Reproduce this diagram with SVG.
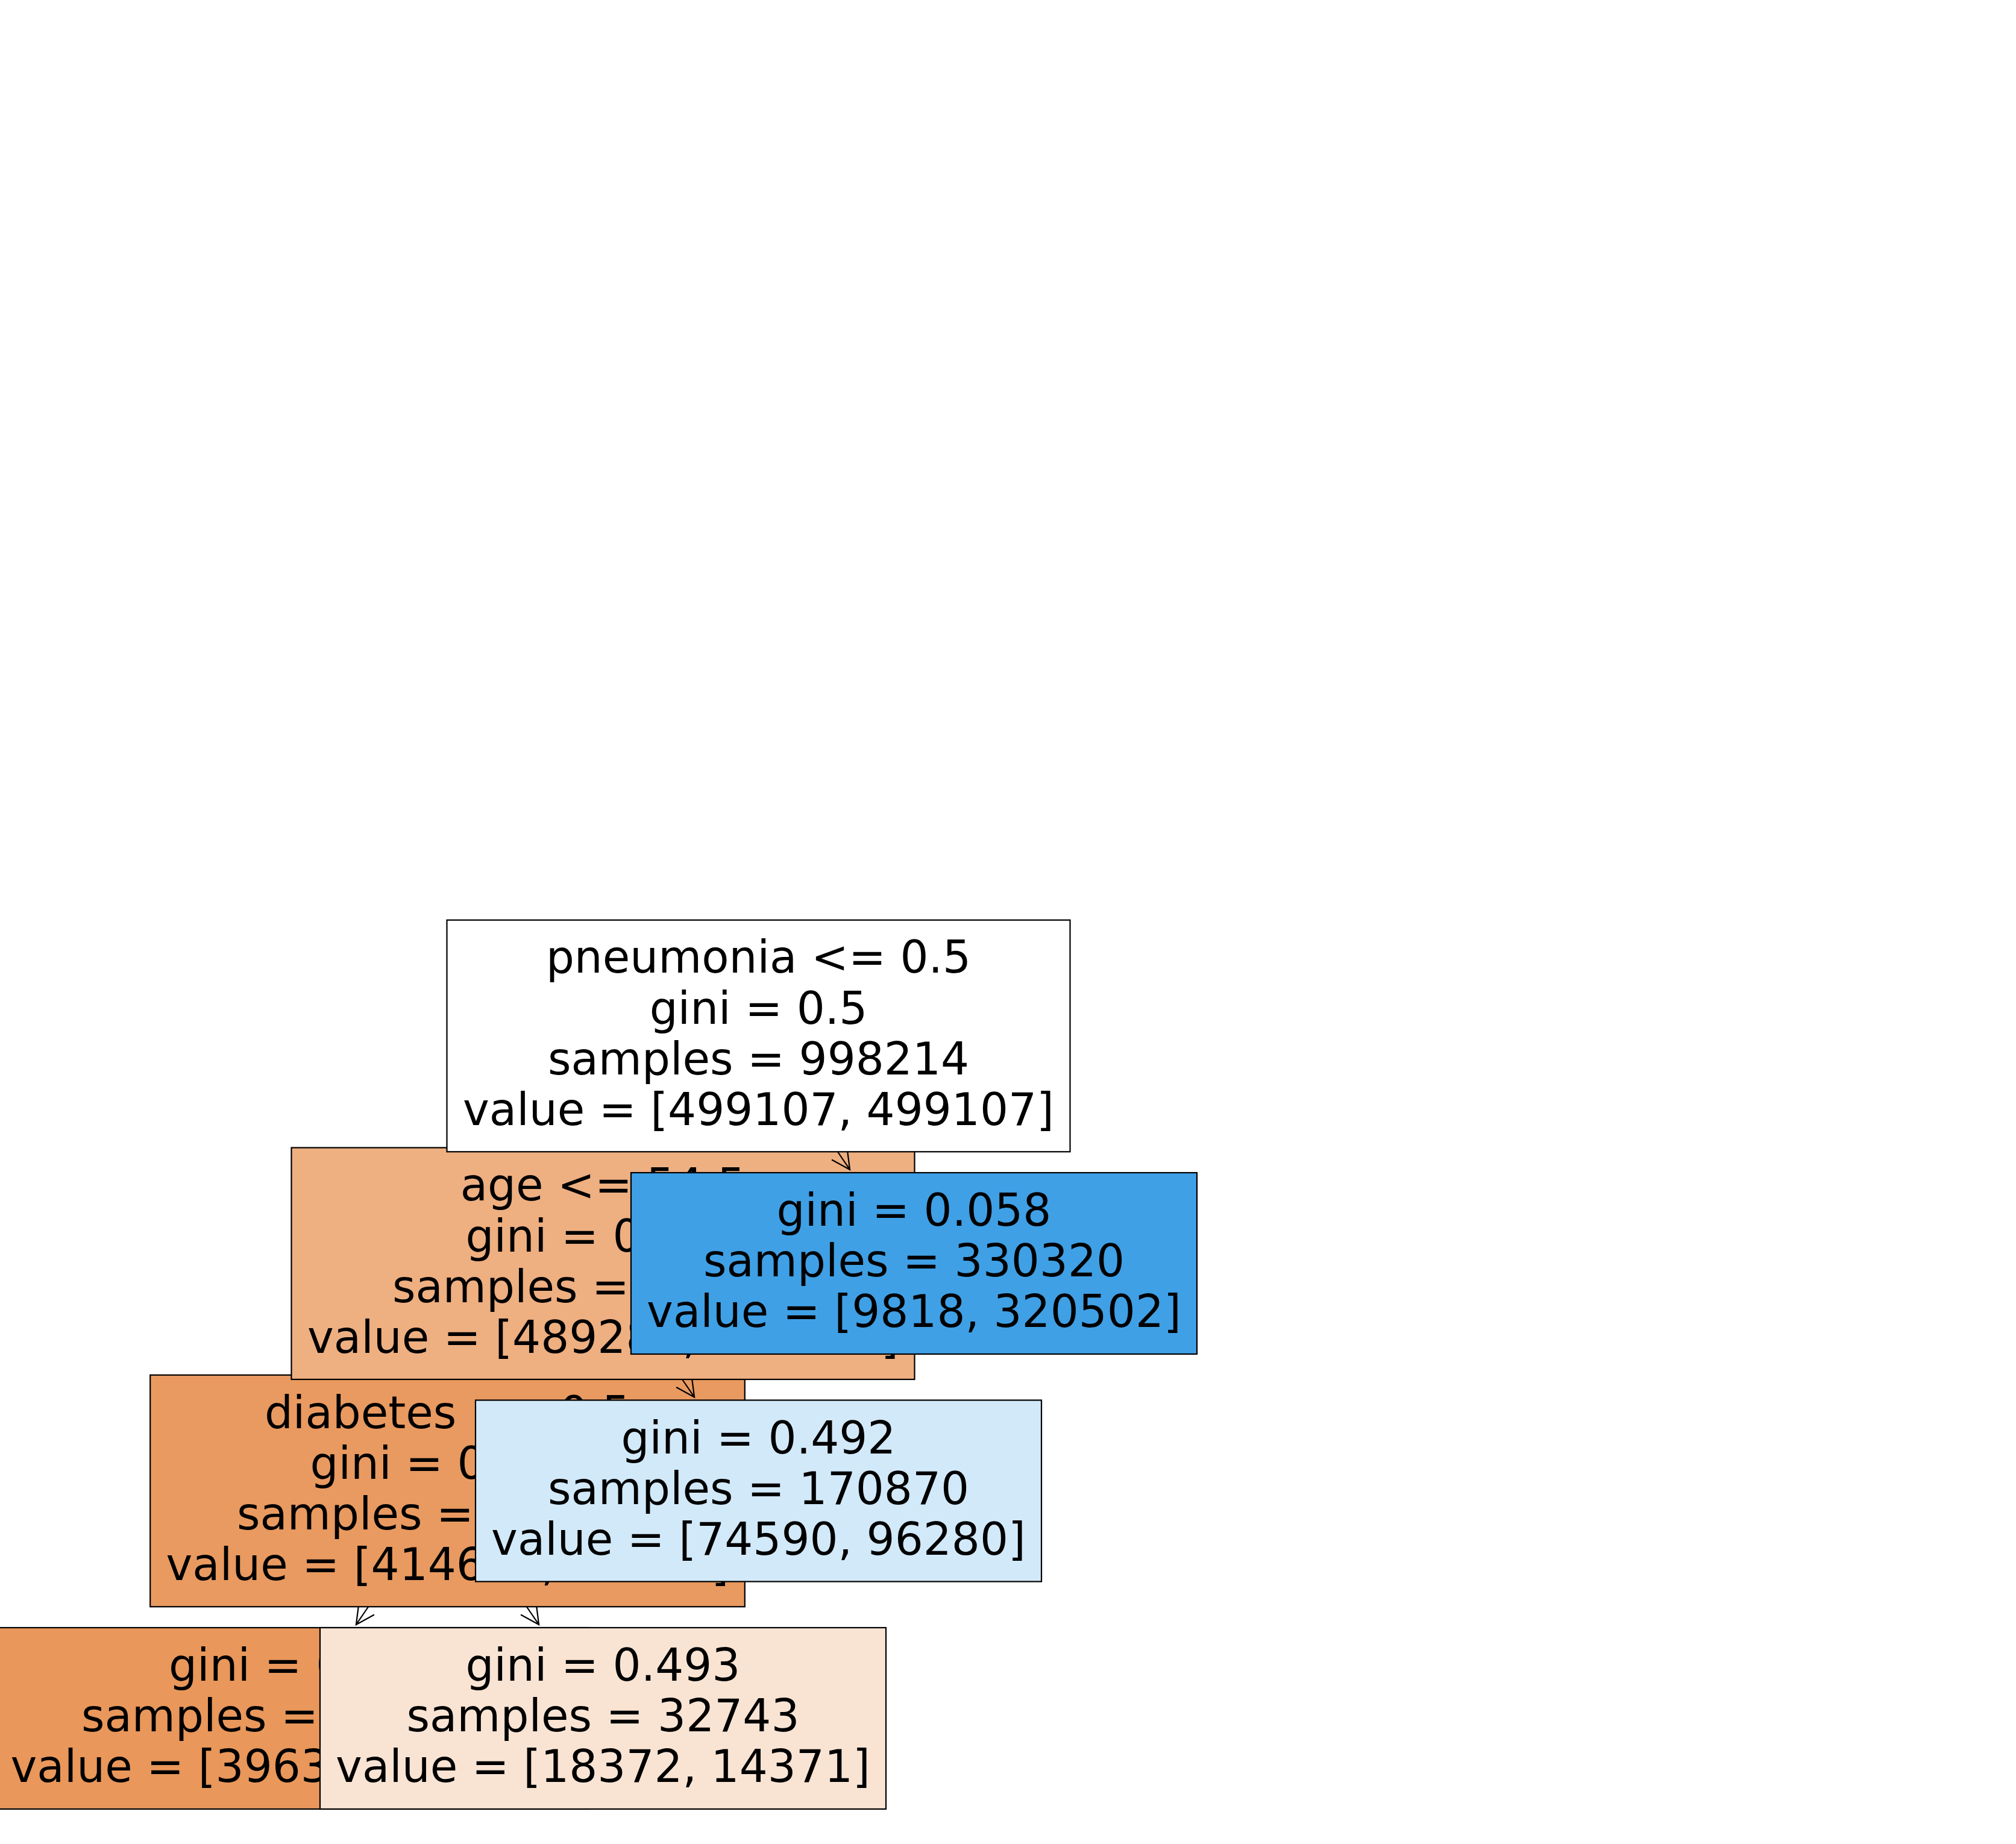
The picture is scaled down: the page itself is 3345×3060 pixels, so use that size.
<svg xmlns="http://www.w3.org/2000/svg" width="3345" height="3060" viewBox="0 0 3345 3060">
<style>
.box{stroke:#000;stroke-width:2.2}
text{font-family:"DejaVu Sans","Liberation Sans",sans-serif;font-size:74px;text-anchor:middle;fill:#000}
.arrow{fill:none;stroke:#000;stroke-width:2.2;stroke-linejoin:miter}
</style>
<rect x="0" y="0" width="3345" height="3060" fill="#fff"/>
<g id="node-leaf-left">
<rect class="box" x="-8.8" y="2701" width="986.6" height="301" fill="#e9975b"/>
<text x="484.5" y="2789.2">gini = 0.25</text>
<text x="484.5" y="2873.3">samples = 464281</text>
<text x="484.5" y="2957.4">value = [396327, 67954]</text>
</g>
<g id="node-leaf-peach">
<rect class="box" x="531" y="2701" width="939" height="301" fill="#f9e4d4"/>
<text x="1000.5" y="2789.2">gini = 0.493</text>
<text x="1000.5" y="2873.3">samples = 32743</text>
<text x="1000.5" y="2957.4">value = [18372, 14371]</text>
</g>
<g id="node-diabetes">
<rect class="box" x="249.2" y="2281.75" width="986.6" height="384.5" fill="#e99a60"/>
<text x="742.5" y="2369.65">diabetes &lt;= 0.5</text>
<text x="742.5" y="2453.75">gini = 0.276</text>
<text x="742.5" y="2537.85">samples = 497024</text>
<text x="742.5" y="2621.95">value = [414699, 82325]</text>
</g>
<g id="node-leaf-lightblue">
<rect class="box" x="789" y="2323.5" width="939" height="301" fill="#d2e9f9"/>
<text x="1258.5" y="2411.7">gini = 0.492</text>
<text x="1258.5" y="2495.8">samples = 170870</text>
<text x="1258.5" y="2579.9">value = [74590, 96280]</text>
</g>
<g id="node-age">
<rect class="box" x="483.5" y="1904.5" width="1034" height="384.5" fill="#eeaf81"/>
<text x="1000.5" y="1992.4">age &lt;= 54.5</text>
<text x="1000.5" y="2076.5">gini = 0.392</text>
<text x="1000.5" y="2160.6">samples = 667894</text>
<text x="1000.5" y="2244.7">value = [489289, 178605]</text>
</g>
<g id="node-leaf-blue">
<rect class="box" x="1047" y="1946" width="939" height="301" fill="#3fa0e6"/>
<text x="1516.5" y="2034.2">gini = 0.058</text>
<text x="1516.5" y="2118.3">samples = 330320</text>
<text x="1516.5" y="2202.4">value = [9818, 320502]</text>
</g>
<g id="node-root">
<rect class="box" x="741.5" y="1526.75" width="1034" height="384.5" fill="#ffffff"/>
<text x="1258.5" y="1614.4">pneumonia &lt;= 0.5</text>
<text x="1258.5" y="1698.5">gini = 0.5</text>
<text x="1258.5" y="1782.6">samples = 998214</text>
<text x="1258.5" y="1866.7">value = [499107, 499107]</text>
</g>
<g id="connectors">
<path class="arrow" d="M1389.7,1911 L1410.1,1940.9 M1406.2,1911 L1410.1,1940.9 L1380.1,1924.45"/>
<path class="arrow" d="M1132,2289 L1152.1,2318.4 M1148.3,2289 L1152.1,2318.4 L1122.1,2301.95"/>
<path class="arrow" d="M611.2,2666.25 L590.9,2695.9 M594.7,2666.25 L590.9,2695.9 L620.9,2679.45"/>
<path class="arrow" d="M873.8,2666.25 L894.1,2695.9 M890.3,2666.25 L894.1,2695.9 L864.1,2679.45"/>
</g>
</svg>
